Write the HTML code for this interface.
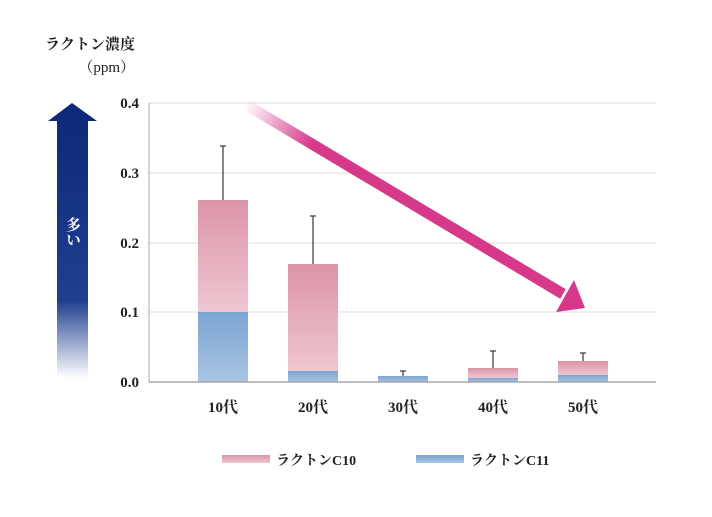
<!DOCTYPE html>
<html><head><meta charset="utf-8"><style>
body{margin:0;background:#fff;}
svg text{font-family:"Liberation Serif","Noto Serif CJK SC","Noto Sans CJK JP",serif;fill:#222;}
</style></head><body>
<svg width="712" height="512" viewBox="0 0 712 512">
<defs>
<linearGradient id="pk" x1="0" y1="0" x2="0" y2="1"><stop offset="0" stop-color="#dc94a8"/><stop offset="1" stop-color="#eec6d1"/></linearGradient>
<linearGradient id="bl" x1="0" y1="0" x2="0" y2="1"><stop offset="0" stop-color="#7ba5d2"/><stop offset="1" stop-color="#a9c4e2"/></linearGradient>
<linearGradient id="nv" x1="0" y1="0" x2="0" y2="1"><stop offset="0" stop-color="#0d2a78"/><stop offset="0.7" stop-color="#1f3f8f"/><stop offset="1" stop-color="#1f3f8f" stop-opacity="0"/></linearGradient>
<linearGradient id="mg" x1="245" y1="105" x2="580" y2="305" gradientUnits="userSpaceOnUse"><stop offset="0" stop-color="#d6388a" stop-opacity="0"/><stop offset="0.2" stop-color="#d6388a"/><stop offset="1" stop-color="#d6388a"/></linearGradient>
</defs>
<text x="135" y="49" font-size="15" text-anchor="end" font-weight="bold">ラクトン濃度</text>
<text x="135" y="72" font-size="15" text-anchor="end">（ppm）</text>
<g stroke="#ddd" stroke-width="1">
<line x1="149" y1="103" x2="656" y2="103"/><line x1="149" y1="173" x2="656" y2="173"/>
<line x1="149" y1="243" x2="656" y2="243"/><line x1="149" y1="312" x2="656" y2="312"/>
</g>
<g font-size="15" text-anchor="end" font-weight="bold">
<text x="139" y="108">0.4</text><text x="139" y="178">0.3</text><text x="139" y="248">0.2</text><text x="139" y="317">0.1</text><text x="139" y="387">0.0</text>
</g>
<g stroke="#444" stroke-width="1.3">
<line x1="223" y1="200" x2="223" y2="146"/><line x1="220" y1="146" x2="226" y2="146"/>
<line x1="313" y1="264" x2="313" y2="216"/><line x1="310" y1="216" x2="316" y2="216"/>
<line x1="403" y1="376" x2="403" y2="371"/><line x1="400" y1="371" x2="406" y2="371"/>
<line x1="493" y1="368" x2="493" y2="351"/><line x1="490" y1="351" x2="496" y2="351"/>
<line x1="583" y1="361" x2="583" y2="353"/><line x1="580" y1="353" x2="586" y2="353"/>
</g>
<rect x="198" y="200" width="50" height="112" fill="url(#pk)"/><rect x="198" y="312" width="50" height="70" fill="url(#bl)"/>
<rect x="288" y="264" width="50" height="107" fill="url(#pk)"/><rect x="288" y="371" width="50" height="11" fill="url(#bl)"/>
<rect x="378" y="376" width="50" height="6" fill="url(#bl)"/>
<rect x="468" y="368" width="50" height="10" fill="url(#pk)"/><rect x="468" y="378" width="50" height="4" fill="url(#bl)"/>
<rect x="558" y="361" width="50" height="14" fill="url(#pk)"/><rect x="558" y="375" width="50" height="7" fill="url(#bl)"/>
<line x1="149" y1="103" x2="149" y2="382" stroke="#aaa"/>
<line x1="149" y1="382" x2="656" y2="382" stroke="#999" stroke-width="1.3"/>
<g font-size="15" text-anchor="middle" font-weight="bold">
<text x="223" y="412">10代</text><text x="313" y="412">20代</text><text x="403" y="412">30代</text><text x="493" y="412">40代</text><text x="583" y="412">50代</text>
</g>
<line x1="245" y1="104" x2="563" y2="294" stroke="url(#mg)" stroke-width="11"/>
<polygon points="585,308 556,312 574,280" fill="#d6388a"/>
<rect x="57" y="120" width="31" height="258" fill="url(#nv)"/>
<polygon points="72,103 97,121 48,121" fill="#0d2a78"/>
<text x="72" y="232" font-size="15" fill="#fff" text-anchor="middle" style="fill:#fff;writing-mode:vertical-rl" font-weight="bold">多い</text>
<rect x="222" y="455" width="48" height="8" fill="url(#pk)"/>
<text x="276" y="465" font-size="14" font-weight="bold">ラクトンC10</text>
<rect x="416" y="455" width="48" height="8" fill="url(#bl)"/>
<text x="470" y="465" font-size="14" font-weight="bold">ラクトンC11</text>
</svg>
</body></html>
